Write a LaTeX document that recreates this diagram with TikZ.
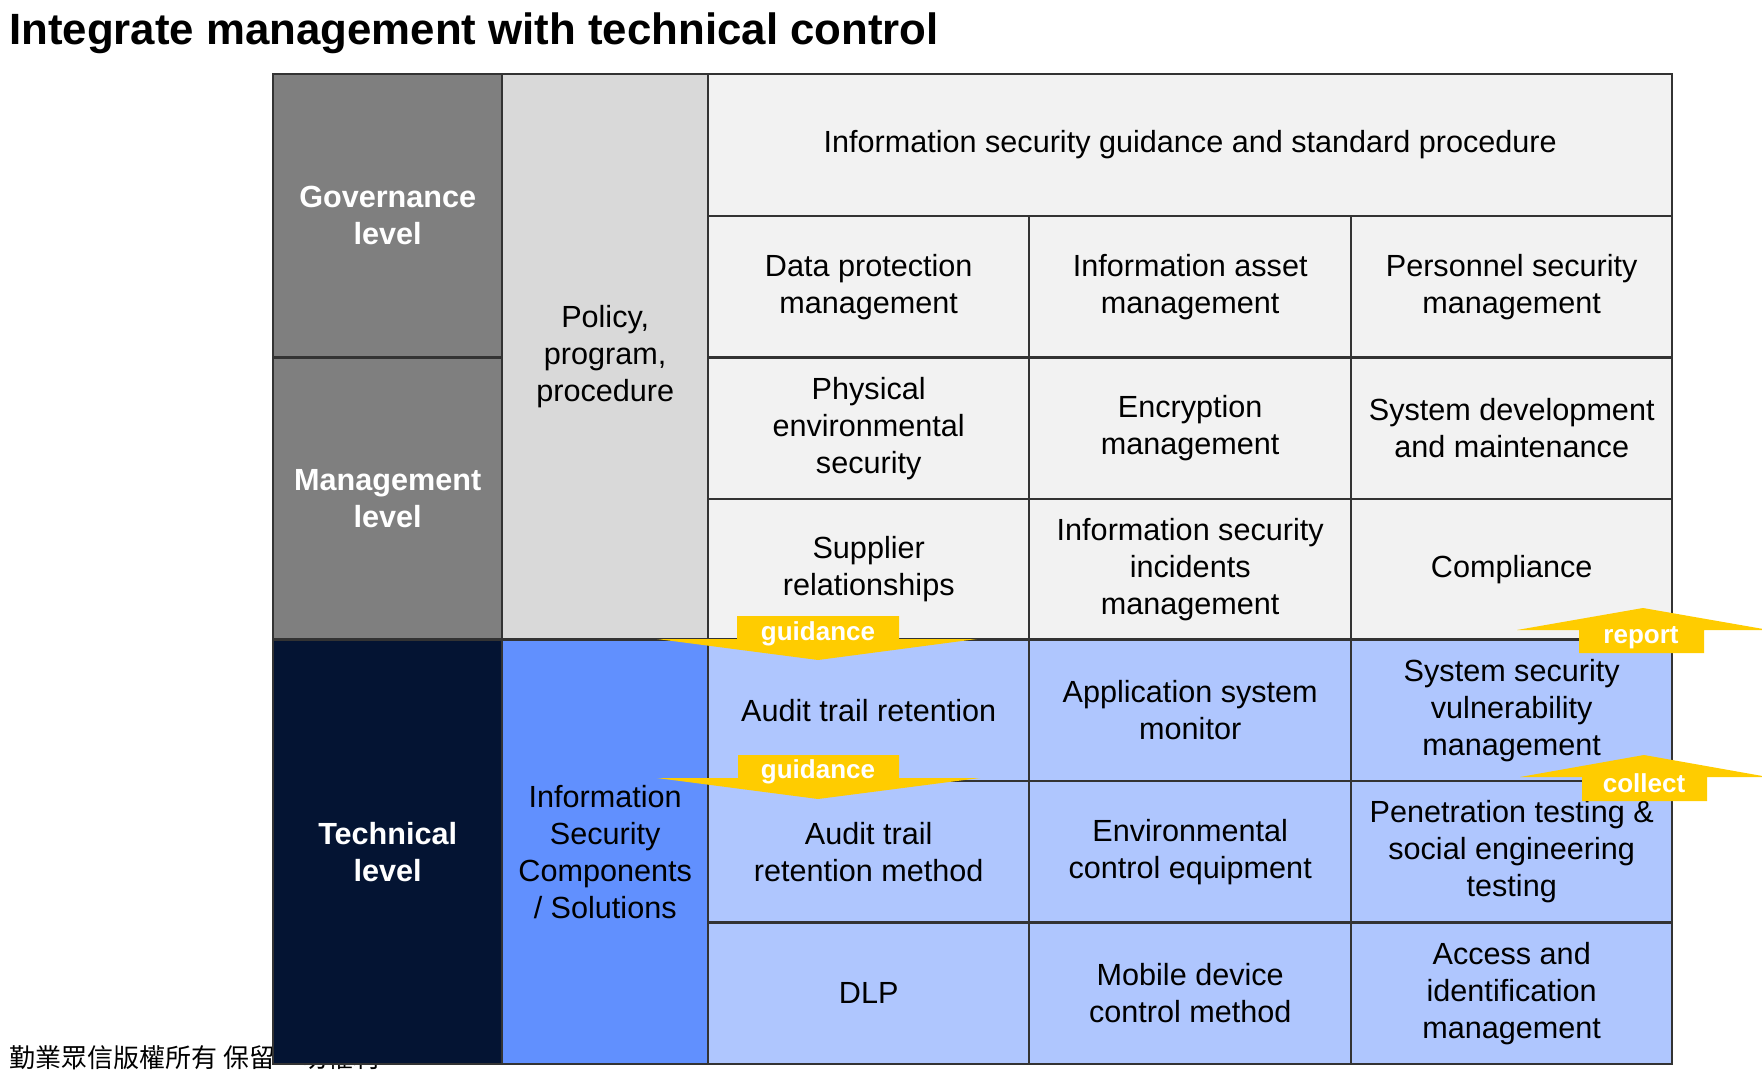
\documentclass[tikz,border=0pt]{standalone}
\usepackage{fontspec}
\setmainfont{Liberation Sans}
\newfontfamily\cjk{Noto Sans CJK TC}
\definecolor{govgray}{HTML}{7F7F7F}
\definecolor{polgray}{HTML}{D9D9D9}
\definecolor{cellgray}{HTML}{F2F2F2}
\definecolor{technavy}{HTML}{041433}
\definecolor{compblue}{HTML}{6190FE}
\definecolor{cellblue}{HTML}{AFC6FE}
\definecolor{linecol}{HTML}{333333}
\definecolor{arrowyel}{HTML}{FFCC00}
\tikzset{
  cellbox/.style={draw=linecol, line width=2.4pt, anchor=north west, inner sep=0pt, align=center,
    font=\fontsize{30.6}{37}\selectfont},
  headbox/.style={cellbox, text=white, font=\bfseries\fontsize{30.6}{37}\selectfont},
  arrowshape/.style={fill=arrowyel, draw=none},
  arrowlabel/.style={text=white, font=\bfseries\fontsize{26}{30}\selectfont, inner sep=0pt}
}
\newcommand{\cellat}[7]{%
  \node[#6, minimum width=#4pt, minimum height=#5pt] (#1) at (#2,#3) {#7};}
\begin{document}
\begin{tikzpicture}[x=1pt,y=-1pt]
\useasboundingbox (0,0) rectangle (1762,1086);
\clip (0,0) rectangle (1762,1086);
% title
\node[anchor=base west, inner sep=0pt, font=\bfseries\fontsize{43.8}{50}\selectfont] (title) at (9,45) {Integrate management with technical control};
% footer (partly covered by the table)
\node[anchor=base west, inner sep=0pt, font=\cjk\fontsize{26}{30}\selectfont] (footer) at (9,1067) {勤業眾信版權所有\ 保留一切權利};
% left columns
\cellat{gov}{272}{73}{229}{283.2}{headbox, fill=govgray}{Governance\\level}
\cellat{mgmt}{272}{356.2}{229}{282.1}{headbox, fill=govgray}{Management\\level}
\cellat{tech}{272}{638.3}{229}{424.7}{headbox, fill=technavy}{Technical\\level}
\cellat{policy}{501}{73}{206}{565.3}{cellbox, fill=polgray}{Policy,\\program,\\procedure}
\cellat{comp}{501}{638.3}{206}{424.7}{cellbox, fill=compblue}{Information\\Security\\Components\\/ Solutions}
% top header
\cellat{guide}{707}{73}{964}{141.6}{cellbox, fill=cellgray}{Information security guidance and standard procedure}
% management cells
\cellat{m11}{707}{214.6}{321}{141.6}{cellbox, fill=cellgray}{Data protection\\management}
\cellat{m12}{1028}{214.6}{322}{141.6}{cellbox, fill=cellgray}{Information asset\\management}
\cellat{m13}{1350}{214.6}{321}{141.6}{cellbox, fill=cellgray}{Personnel security\\management}
\cellat{m21}{707}{356.2}{321}{141.6}{cellbox, fill=cellgray}{Physical\\environmental\\security}
\cellat{m22}{1028}{356.2}{322}{141.6}{cellbox, fill=cellgray}{Encryption\\management}
\cellat{m23}{1350}{356.2}{321}{141.6}{cellbox, fill=cellgray}{System development\\and maintenance}
\cellat{m31}{707}{497.8}{321}{140.5}{cellbox, fill=cellgray}{Supplier\\relationships}
\cellat{m32}{1028}{497.8}{322}{140.5}{cellbox, fill=cellgray}{Information security\\incidents\\management}
\cellat{m33}{1350}{497.8}{321}{140.5}{cellbox, fill=cellgray}{Compliance}
% technical cells
\cellat{t11}{707}{638.3}{321}{141.6}{cellbox, fill=cellblue}{Audit trail retention}
\cellat{t12}{1028}{638.3}{322}{141.6}{cellbox, fill=cellblue}{Application system\\monitor}
\cellat{t13}{1350}{638.3}{321}{141.6}{cellbox, fill=cellblue}{System security\\vulnerability\\management}
\cellat{t21}{707}{779.9}{321}{141.5}{cellbox, fill=cellblue}{Audit trail\\retention method}
\cellat{t22}{1028}{779.9}{322}{141.5}{cellbox, fill=cellblue}{Environmental\\control equipment}
\cellat{t23}{1350}{779.9}{321}{141.5}{cellbox, fill=cellblue}{Penetration testing \&\\social engineering\\testing}
\cellat{t31}{707}{921.4}{321}{141.6}{cellbox, fill=cellblue}{DLP}
\cellat{t32}{1028}{921.4}{322}{141.6}{cellbox, fill=cellblue}{Mobile device\\control method}
\cellat{t33}{1350}{921.4}{321}{141.6}{cellbox, fill=cellblue}{Access and\\identification\\management}
% arrows
\fill[arrowshape] (737,616) -- (899,616) -- (899,639) -- (977,639) -- (818,660) -- (657,639) -- (737,639) -- cycle;
\node[arrowlabel] (g1) at (818,634) {guidance};
\fill[arrowshape] (738,755) -- (899,755) -- (899,778) -- (980,778) -- (818,799) -- (657,778) -- (738,778) -- cycle;
\node[arrowlabel] (g2) at (818,772) {guidance};
\fill[arrowshape] (1579,653) -- (1579,630) -- (1517,630) -- (1643,608) -- (1769,630) -- (1704,630) -- (1704,653) -- cycle;
\node[arrowlabel] (rep) at (1641,638) {report};
\fill[arrowshape] (1582,801) -- (1582,777) -- (1520,777) -- (1644,755) -- (1768,777) -- (1707,777) -- (1707,801) -- cycle;
\node[arrowlabel] (col) at (1644,783) {collect};
\end{tikzpicture}
\end{document}
